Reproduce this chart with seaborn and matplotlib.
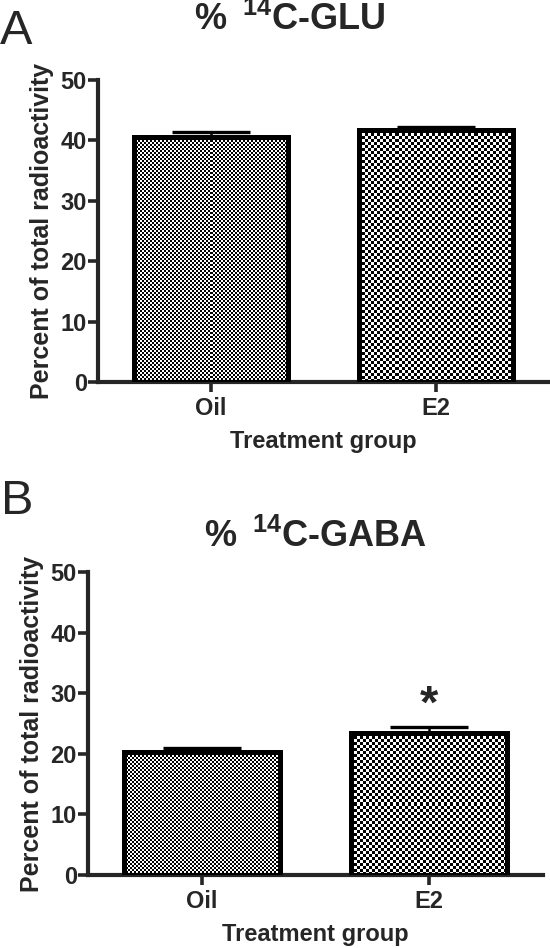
import numpy as np
import pandas as pd
import matplotlib
matplotlib.use("Agg")
import matplotlib.pyplot as plt
import seaborn as sns

# Data
groups = ["Oil", "E2"]
glu_mean = [40.6, 41.7]
glu_sem = [0.8, 0.5]
gaba_mean = [20.3, 23.4]
gaba_sem = [0.7, 1.0]
gaba_sig = ["", "*"]

# checker cell size (pixels) for each group
CELL_PX = [2, 3]

sns.set_style("ticks")
plt.rcParams["font.family"] = ["Liberation Sans", "DejaVu Sans"]
plt.rcParams["mathtext.fontset"] = "custom"
plt.rcParams["mathtext.bf"] = "Liberation Sans:bold"
plt.rcParams["mathtext.rm"] = "Liberation Sans"

W, H = 550, 948
fig = plt.figure(figsize=(W / 100, H / 100), dpi=100)


def checker(ny, nx):
    yy, xx = np.indices((ny, nx))
    return ((yy + xx) % 2).astype(float)


def draw_panel(ax, means, sems, ylabel="Percent of total radioactivity"):
    df = pd.DataFrame({"group": groups, "value": means})
    sns.barplot(data=df, x="group", y="value", ax=ax, width=0.685,
                color="white", edgecolor="black", linewidth=3.6, zorder=3)
    ax.errorbar(range(len(groups)), means, yerr=[np.zeros(len(sems)), sems],
                fmt="none", ecolor="black", elinewidth=1.8, capsize=28,
                capthick=2.4, zorder=2.5)
    ax.set_xlim(-0.5, 1.5)
    ax.set_ylim(0, 50)
    ax.set_yticks([0, 10, 20, 30, 40, 50])
    ax.set_xlabel("Treatment group", fontsize=17, fontweight="bold", labelpad=7)
    ax.set_ylabel(ylabel, fontsize=18, fontweight="bold", labelpad=5)
    for s in ["top", "right"]:
        ax.spines[s].set_visible(False)
    for s in ["left", "bottom"]:
        ax.spines[s].set_linewidth(3.0)
    ax.tick_params(axis="both", width=2.6, length=7, direction="out")
    ax.tick_params(axis="y", labelsize=17, pad=1)
    ax.tick_params(axis="x", labelsize=17, pad=4)
    for lab in ax.get_xticklabels() + ax.get_yticklabels():
        lab.set_fontweight("bold")
    return ax


def fill_checker(ax):
    fig.canvas.draw()
    for i, patch in enumerate(ax.patches):
        x0, y0 = patch.get_x(), patch.get_y()
        w, h = patch.get_width(), patch.get_height()
        p0 = ax.transData.transform((x0, y0))
        p1 = ax.transData.transform((x0 + w, y0 + h))
        cell = CELL_PX[i % len(CELL_PX)]
        nx = max(1, int(round(abs(p1[0] - p0[0]) / cell)))
        ny = max(1, int(round(abs(p1[1] - p0[1]) / cell)))
        im = ax.imshow(checker(ny, nx), cmap="gray", vmin=0, vmax=1,
                       extent=(x0, x0 + w, y0, y0 + h), origin="lower",
                       interpolation="nearest", aspect="auto", zorder=2)
        im.set_clip_path(patch)
        patch.set_facecolor("none")
    ax.set_xlim(-0.5, 1.5)
    ax.set_ylim(0, 50)


# Panel A
axA = fig.add_axes([98 / W, 1 - 382 / H, 451 / W, 302 / H])
draw_panel(axA, glu_mean, glu_sem)

# Panel B
axB = fig.add_axes([88 / W, 1 - 875 / H, 455 / W, 303 / H])
draw_panel(axB, gaba_mean, gaba_sem)
for i, s in enumerate(gaba_sig):
    if s:
        axB.text(i, gaba_mean[i] + gaba_sem[i] + 3.6, s, ha="center", va="center",
                 fontsize=34, fontweight="bold")

fill_checker(axA)
fill_checker(axB)

fig.text(290 / W, 1 - 20 / H, r"% $\mathbf{\,^{14}}$C-GLU", ha="center", va="center",
         fontsize=26, fontweight="bold")
fig.text(316 / W, 1 - 537 / H, r"% $\mathbf{\,^{14}}$C-GABA", ha="center", va="center",
         fontsize=26, fontweight="bold")
fig.text(0 / W, 1 - 31 / H, "A", ha="left", va="center", fontsize=35)
fig.text(1 / W, 1 - 502 / H, "B", ha="left", va="center", fontsize=35)

fig.savefig("out.png", dpi=100, facecolor="white")
